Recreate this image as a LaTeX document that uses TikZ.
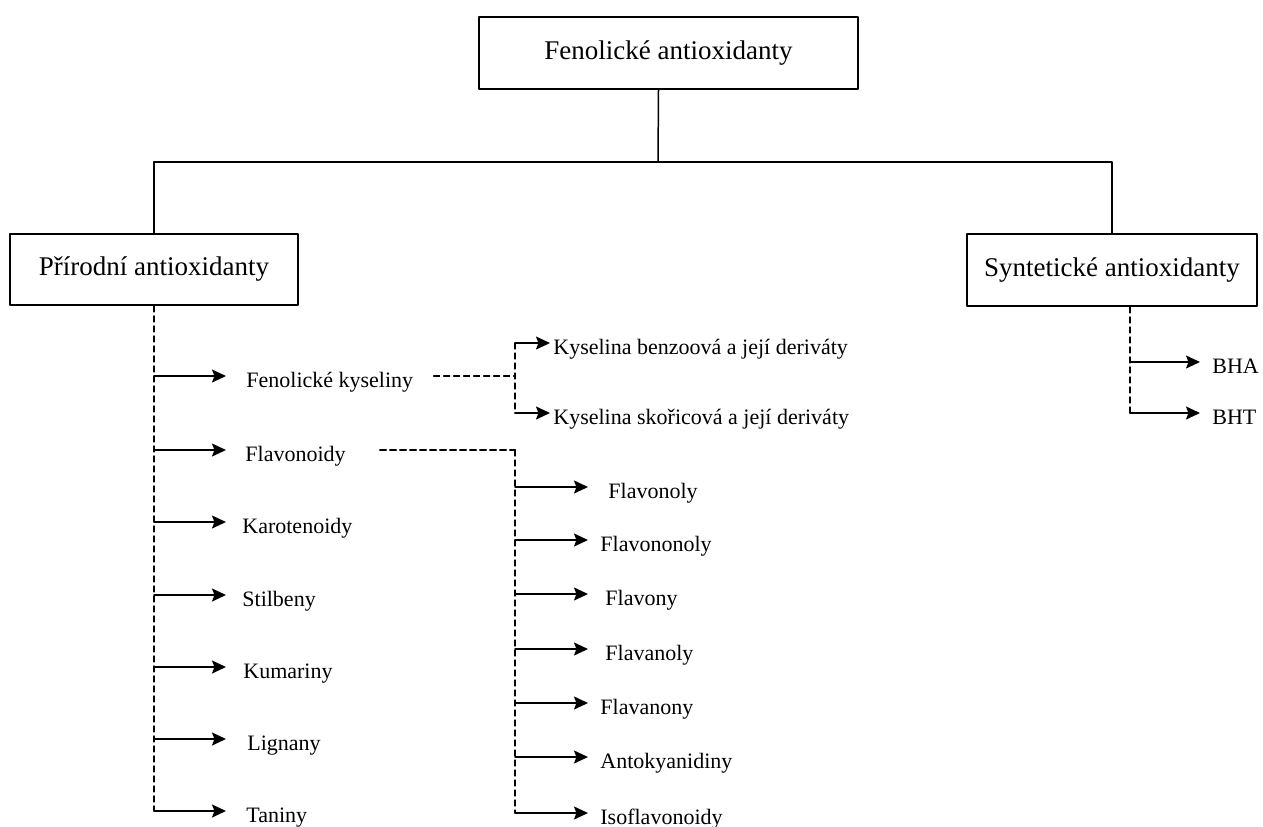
\documentclass[tikz,border=0pt]{standalone}
\usepackage{fontspec}
\setmainfont{Liberation Serif}
\usetikzlibrary{arrows.meta}
\tikzset{
	box/.style={draw,line width=0.9pt,inner sep=0pt,font=\fontsize{13.5}{16}\selectfont},
	item/.style={inner sep=0pt,anchor=west,text height=11pt,text depth=0pt,font=\fontsize{11}{13}\selectfont},
	dsh/.style={line width=0.6pt,dash pattern=on 3pt off 2pt},
	arr/.style={line width=0.75pt,->},
}

\begin{document}
\begin{tikzpicture}[line cap=round,line join=round,>={Stealth[length=7pt,width=6.5pt,inset=1.2pt]},x=0.5pt,y=-0.5pt]
	\useasboundingbox (0,0) rectangle (1263,826);
	\node[box,minimum width=189.5pt,minimum height=36pt] (fen) at (668.5,53) {Fenolické antioxidanty};
	\node[box,minimum width=144pt,minimum height=35.5pt] (pri) at (154,269.5) {Přírodní antioxidanty};
	\node[box,minimum width=145pt,minimum height=36pt] (syn) at (1112,270) {Syntetické antioxidanty};
	\coordinate (fork) at (658,162);
	\draw [line width=0.75pt] ([xshift=-5pt]fen.south) -- (fork);
	\draw [line width=0.75pt] (pri.north) -- (pri.north |- fork) -- (syn.north |- fork) -- (syn.north);
	\node[item] (fk) at (246,376) {Fenolické kyseliny};
	\node[item] (fl) at (245,450) {Flavonoidy};
	\node[item] (ka) at (242,522) {Karotenoidy};
	\node[item] (st) at (242,595) {Stilbeny};
	\node[item] (ku) at (243,667) {Kumariny};
	\node[item] (li) at (247,739) {Lignany};
	\node[item] (ta) at (246,811) {Taniny};
	\coordinate (prt) at (226,376);
	\draw [dsh] (pri.south) -- (pri.south |- ta.west);
	\foreach \n in {fk,fl,ka,st,ku,li,ta}
		\draw [arr] (pri.south |- \n.west) -- (prt |- \n.west);
	\coordinate (fkj) at (515,376);
	\node[item] (kb) at (553,343) {Kyselina benzoová a její deriváty};
	\node[item] (ks) at (553,413) {Kyselina skořicová a její deriváty};
	\draw [dsh] ([xshift=10pt]fk.east) -- (fkj);
	\draw [dsh] (fkj |- kb.west) -- (fkj |- ks.west);
	\foreach \n in {kb,ks}
		\draw [arr,shorten >=1.5pt] (fkj |- \n.west) -- (\n.west);
	\coordinate (flj) at (515,450);
	\coordinate (flt) at (588,450);
	\node[item] (fo) at (608,487) {Flavonoly};
	\node[item] (fn) at (600,540) {Flavononoly};
	\node[item] (fy) at (605,594) {Flavony};
	\node[item] (fv) at (605,649) {Flavanoly};
	\node[item] (fw) at (600,703) {Flavanony};
	\node[item] (an) at (600,757) {Antokyanidiny};
	\node[item] (is) at (600,813) {Isoflavonoidy};
	\draw [dsh,line width=1.1pt] ([xshift=17pt]fl.east) -- (flj);
	\draw [dsh] (flj) -- (flj |- is.west);
	\foreach \n in {fo,fn,fy,fv,fw,an,is}
		\draw [arr] (flj |- \n.west) -- (flt |- \n.west);
	\coordinate (syt) at ([xshift=9pt]syn.south);
	\node[item] (bha) at (1212,362) {BHA};
	\node[item] (bht) at (1212,413) {BHT};
	\draw [dsh] (syt) -- (syt |- bht.west);
	\foreach \n in {bha,bht}
		\draw [arr,shorten >=6pt] (syt |- \n.west) -- (\n.west);
\end{tikzpicture}
\end{document}
